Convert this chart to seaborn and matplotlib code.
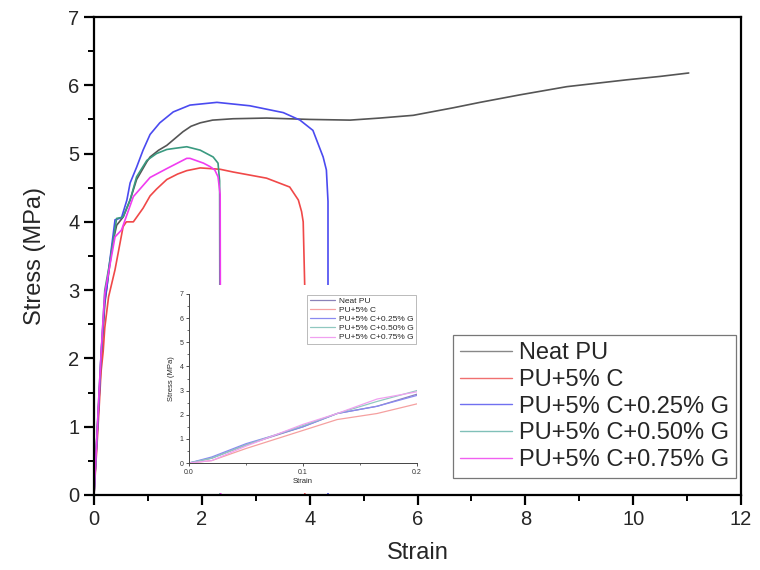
import numpy as np
import pandas as pd
import matplotlib
matplotlib.use("Agg")
import matplotlib.pyplot as plt
from matplotlib.ticker import MultipleLocator
from matplotlib.lines import Line2D
import seaborn as sns

labels = ["Neat PU", "PU+5% C", "PU+5% C+0.25% G", "PU+5% C+0.50% G", "PU+5% C+0.75% G"]

neat_x = [0, 0.05, 0.1, 0.15, 0.2, 0.28, 0.35, 0.42, 0.54, 0.67, 0.79, 0.98, 1.04, 1.2, 1.35, 1.5,
          1.65, 1.8, 1.97, 2.2, 2.58, 3.2, 4.0, 4.75, 5.3, 5.92, 6.66, 7.16, 7.9, 8.77, 9.88, 10.5, 11.03]
neat_y = [0, 0.8, 1.5, 2.15, 2.8, 3.3, 3.7, 3.95, 4.07, 4.32, 4.62, 4.88, 4.95, 5.05, 5.12, 5.22,
          5.32, 5.4, 5.45, 5.49, 5.51, 5.52, 5.5, 5.49, 5.52, 5.56, 5.67, 5.75, 5.86, 5.98, 6.08, 6.13, 6.18]

c_x = [0, 0.05, 0.1, 0.13, 0.17, 0.2, 0.27, 0.33, 0.39, 0.54, 0.6, 0.73, 0.91, 1.04, 1.16, 1.35,
       1.55, 1.72, 1.97, 2.34, 2.58, 3.2, 3.63, 3.79, 3.85, 3.88, 3.91, 3.91]
c_y = [0, 0.65, 1.35, 1.8, 2.1, 2.45, 2.9, 3.1, 3.3, 3.93, 4.0, 4.0, 4.2, 4.38, 4.48, 4.62,
       4.7, 4.75, 4.79, 4.77, 4.73, 4.64, 4.51, 4.32, 4.15, 4.0, 3.0, 0]

g25_x = [0, 0.05, 0.1, 0.13, 0.16, 0.2, 0.24, 0.28, 0.35, 0.39, 0.51, 0.61, 0.67, 0.79, 0.91, 1.04,
         1.22, 1.47, 1.78, 2.28, 2.89, 3.51, 3.82, 4.06, 4.25, 4.31, 4.34, 4.34]
g25_y = [0, 0.75, 1.5, 2.05, 2.4, 2.85, 3.05, 3.35, 3.78, 4.03, 4.06, 4.32, 4.57, 4.8, 5.05, 5.28,
         5.45, 5.61, 5.71, 5.75, 5.7, 5.6, 5.49, 5.34, 4.95, 4.76, 4.3, 0]

g50_x = [0, 0.05, 0.1, 0.15, 0.2, 0.28, 0.35, 0.42, 0.54, 0.67, 0.79, 0.98, 1.16, 1.35, 1.53, 1.72,
         1.97, 2.21, 2.3, 2.33, 2.34]
g50_y = [0, 0.8, 1.6, 2.3, 3.0, 3.35, 3.7, 4.05, 4.07, 4.32, 4.66, 4.9, 5.0, 5.06, 5.08, 5.1,
         5.05, 4.95, 4.86, 4.6, 0]

g75_x = [0, 0.05, 0.1, 0.13, 0.17, 0.2, 0.28, 0.39, 0.51, 0.73, 1.04, 1.35, 1.72, 1.78, 2.03, 2.15,
         2.24, 2.3, 2.34, 2.35]
g75_y = [0, 0.8, 1.6, 2.05, 2.6, 2.95, 3.3, 3.78, 3.88, 4.37, 4.65, 4.78, 4.93, 4.93, 4.86, 4.81,
         4.76, 4.66, 4.4, 0]

# inset (zoom 0 - 0.2 strain)
in_x = [0, 0.02, 0.05, 0.1, 0.13, 0.165, 0.2]
in_neat = [0, 0.2, 0.75, 1.5, 2.05, 2.35, 2.85]
in_c = [0, 0.1, 0.6, 1.35, 1.8, 2.05, 2.45]
in_g25 = [0, 0.25, 0.8, 1.5, 2.05, 2.35, 2.8]
in_g50 = [0, 0.2, 0.75, 1.55, 2.05, 2.55, 3.0]
in_g75 = [0, 0.1, 0.7, 1.6, 2.05, 2.65, 2.95]

main_colors = ["#555555", "#f04848", "#4a4af0", "#3a9a80", "#f03cf0"]
inset_colors = ["#8a82b8", "#f5a0a0", "#8a8af0", "#90c8c0", "#f0a0f0"]
leg_colors = ["#888888", "#f07070", "#7070f0", "#80c0b8", "#f060f0"]

sns.set_style("ticks")
plt.rcParams["font.family"] = ["Liberation Sans", "DejaVu Sans"]

frames = []
for lab, xs, ys in zip(labels, [neat_x, c_x, g25_x, g50_x, g75_x], [neat_y, c_y, g25_y, g50_y, g75_y]):
    frames.append(pd.DataFrame({"Strain": xs, "Stress": ys, "Sample": lab}))
df = pd.concat(frames, ignore_index=True)

iframes = []
for lab, ys in zip(labels, [in_neat, in_c, in_g25, in_g50, in_g75]):
    iframes.append(pd.DataFrame({"Strain": in_x, "Stress": ys, "Sample": lab}))
idf = pd.concat(iframes, ignore_index=True)

fig = plt.figure(figsize=(7.6, 5.7), dpi=100)
ax = fig.add_axes([94 / 760, 1 - 495 / 570, 647 / 760, 478 / 570])

sns.lineplot(data=df, x="Strain", y="Stress", hue="Sample", hue_order=labels,
             palette=main_colors, sort=False, estimator=None,
             linewidth=1.2, ax=ax, legend=False)

ax.set_xlim(0, 12)
ax.set_ylim(0, 7)
ax.xaxis.set_major_locator(MultipleLocator(2))
ax.xaxis.set_minor_locator(MultipleLocator(1))
ax.yaxis.set_major_locator(MultipleLocator(1))
ax.yaxis.set_minor_locator(MultipleLocator(0.5))
ax.tick_params(which="major", direction="out", length=7, width=1.6, labelsize=14.5, color="black")
ax.tick_params(which="minor", direction="out", length=4, width=1.4, color="black")
ax.tick_params(top=False, right=False, which="both")
for s in ax.spines.values():
    s.set_linewidth(1.6)
    s.set_color("black")
ax.set_xlabel("Strain", fontsize=17, labelpad=10)
ax.set_ylabel("Stress (MPa)", fontsize=17, labelpad=16)

handles = [Line2D([0], [0], color=c, lw=1.0) for c in leg_colors]
leg = ax.legend(handles, labels, loc="lower right", bbox_to_anchor=(0.993, 0.035),
                fontsize=17, frameon=True, fancybox=False, edgecolor="#555555",
                handlelength=2.2, handletextpad=0.3, labelspacing=0.2, borderpad=0.3,
                borderaxespad=0)
leg.get_frame().set_linewidth(0.9)

# white background behind inset
bg = fig.add_axes([158 / 760, 1 - 493 / 570, 278 / 760, 208 / 570])
bg.set_facecolor("white")
bg.set_xticks([])
bg.set_yticks([])
for s in bg.spines.values():
    s.set_visible(False)
bg.set_zorder(2)

ins = fig.add_axes([189 / 760, 1 - 463 / 570, 228 / 760, 169 / 570])
ins.set_zorder(3)
sns.lineplot(data=idf, x="Strain", y="Stress", hue="Sample", hue_order=labels,
             palette=inset_colors, sort=False, estimator=None, linewidth=0.9, ax=ins)
ins.set_xlim(0, 0.2)
ins.set_ylim(0, 7)
ins.xaxis.set_major_locator(MultipleLocator(0.1))
ins.xaxis.set_minor_locator(MultipleLocator(0.05))
ins.yaxis.set_major_locator(MultipleLocator(1))
ins.yaxis.set_minor_locator(MultipleLocator(0.5))
ins.xaxis.set_major_formatter(matplotlib.ticker.FormatStrFormatter("%.1f"))
ins.tick_params(which="major", direction="out", length=2.5, width=0.6, labelsize=5, pad=1.5, colors="#333333")
ins.tick_params(which="minor", direction="out", length=1.5, width=0.5, colors="#333333")
for side in ["top", "right"]:
    ins.spines[side].set_visible(False)
for side in ["left", "bottom"]:
    ins.spines[side].set_linewidth(0.7)
    ins.spines[side].set_color("#444444")
ins.set_xlabel("Strain", fontsize=5.5, labelpad=2)
ins.set_ylabel("Stress (MPa)", fontsize=5.5, labelpad=3)
il = ins.legend(loc="upper right", fontsize=6, frameon=True, fancybox=False, edgecolor="#888888",
                handlelength=3.0, handletextpad=0.5, labelspacing=0.15, borderpad=0.3,
                borderaxespad=0.1, title=None)
il.get_frame().set_linewidth(0.5)

fig.savefig("out.png", dpi=100)
